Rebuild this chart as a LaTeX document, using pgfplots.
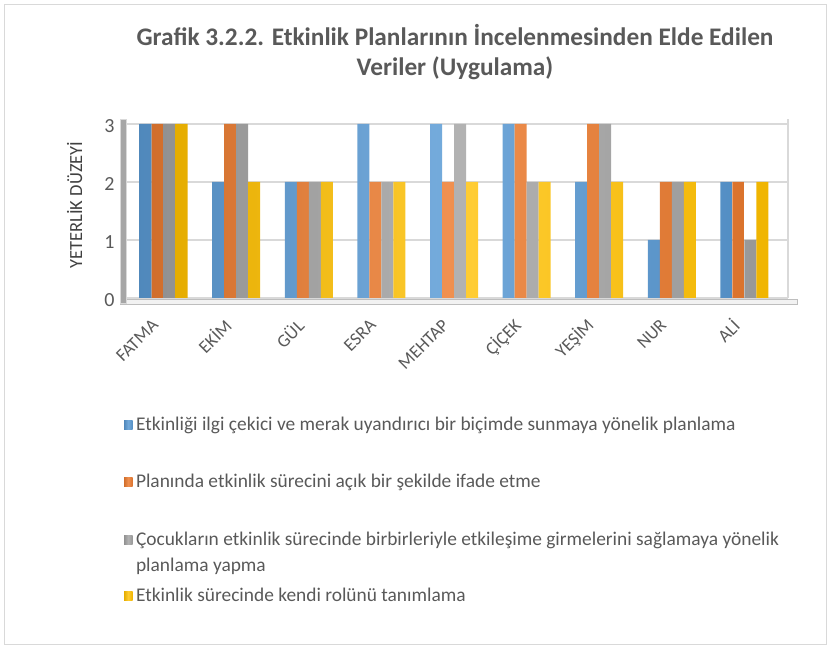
\documentclass[border=0pt]{standalone}
\usepackage{pgfplots}
\pgfplotsset{compat=1.18}
\usepackage{fontspec}
\setmainfont{Carlito}
\definecolor{cblue}{HTML}{5B9BD5}
\definecolor{corange}{HTML}{ED7D31}
\definecolor{cgray}{HTML}{A5A5A5}
\definecolor{cyellow}{HTML}{FFC000}
\definecolor{txt}{HTML}{595959}
\definecolor{ylab}{HTML}{404040}
\definecolor{gridc}{HTML}{D9D9D9}
\definecolor{floorc}{HTML}{F2F2F2}
\definecolor{wallc}{HTML}{A6A6A6}
\pgfplotsset{
  b1/.style={draw=none, left color=cblue!88!black, right color=cblue!92!black, middle color=cblue!85!white},
  b2/.style={draw=none, left color=corange!88!black, right color=corange!92!black, middle color=corange!85!white},
  b3/.style={draw=none, left color=cgray!88!black, right color=cgray!92!black, middle color=cgray!85!white},
  b4/.style={draw=none, left color=cyellow!90!black, right color=cyellow!94!black, middle color=cyellow!80!white},
  legax/.style={hide axis, scale only axis, width=1bp, height=1bp,
    xmin=0, xmax=1, ymin=0, ymax=1, anchor=south west,
    legend cell align=left,
    legend style={at={(0,0)}, anchor=west, draw=none, fill=none,
      inner sep=0pt, outer sep=0pt, column sep=3.5bp,
      nodes={inner sep=0pt, font=\fontsize{19.4bp}{26bp}\selectfont, text=txt}},
    legend image code/.code={\path[##1, sharp corners] (0bp,-4.25bp) rectangle (8.5bp,4.25bp);}},
}
\begin{document}
\begin{tikzpicture}[x=1bp,y=1bp]
\useasboundingbox (0,0) rectangle (831,646);
\draw[color=gridc, line width=1bp] (4.5,1.5) rectangle (826.5,641.5);
\node[align=center, font=\fontsize{25.3bp}{30bp}\selectfont\bfseries, text=txt] at (455,594)
  {Grafik 3.2.2. Etkinlik Planlarının İncelenmesinden Elde Edilen\\Veriler (Uygulama)};
\begin{axis}[
  at={(120bp,348bp)}, anchor=south west, scale only axis,
  width=668bp, height=174bp,
  xmin=-0.6, xmax=8.6, ymin=0, ymax=3,
  ybar=0pt, bar width=12bp,
  xtick={0,...,8},
  xticklabels={FATMA,EKİM,GÜL,ESRA,MEHTAP,ÇİÇEK,YEŞİM,NUR,ALİ},
  ytick={0,1,2,3},
  major tick length=0pt,
  axis line style={draw=none},
  ymajorgrids, major grid style={color=gridc, line width=1.2bp},
  /pgf/number format/assume math mode=true,
  yticklabel style={font=\fontsize{20bp}{22bp}\selectfont, text=txt, yshift=-2bp, xshift=-2bp},
  xticklabel style={font=\fontsize{18bp}{20bp}\selectfont, text=txt, xshift=-6bp, yshift=-22bp, rotate=45, anchor=east},
  ylabel={YETERLİK DÜZEYİ},
  ylabel style={at={(axis description cs:-0.068,0.534)}, anchor=center, font=\fontsize{18.5bp}{20bp}\selectfont, text=ylab},
  clip=false,
]
\draw[gridc!70!gray, fill=floorc] ([yshift=-6bp]rel axis cs:0,0) rectangle ([xshift=9bp,yshift=-1bp]rel axis cs:1,0);
\addplot[b1] coordinates {(0,3) (1,2) (2,2) (3,3) (4,3) (5,3) (6,2) (7,1) (8,2)};
\addplot[b2] coordinates {(0,3) (1,3) (2,2) (3,2) (4,2) (5,3) (6,3) (7,2) (8,2)};
\addplot[b3] coordinates {(0,3) (1,3) (2,2) (3,2) (4,3) (5,2) (6,3) (7,2) (8,1)};
\addplot[b4] coordinates {(0,3) (1,2) (2,2) (3,2) (4,2) (5,2) (6,2) (7,2) (8,2)};
\draw[gridc, fill=wallc] ([yshift=-5bp]rel axis cs:0,0) rectangle ([xshift=6bp,yshift=5bp]rel axis cs:0,1);
\draw[gridc, line width=1.2bp] (rel axis cs:1,0) -- ([yshift=5bp]rel axis cs:1,1);
\end{axis}
\begin{axis}[legax, at={(124bp,221bp)}]
\addlegendimage{b1}
\addlegendentry{Etkinliği ilgi çekici ve merak uyandırıcı bir biçimde sunmaya yönelik planlama}
\end{axis}
\begin{axis}[legax, at={(124bp,164bp)}]
\addlegendimage{b2}
\addlegendentry{Planında etkinlik sürecini açık bir şekilde ifade etme}
\end{axis}
\begin{axis}[legax, at={(124bp,106bp)}]
\addlegendimage{b3}
\addlegendentry{\rlap{\smash{\raisebox{-26bp}{planlama yapma}}}Çocukların etkinlik sürecinde birbirleriyle etkileşime girmelerini sağlamaya yönelik}
\end{axis}
\begin{axis}[legax, at={(124bp,50bp)}]
\addlegendimage{b4}
\addlegendentry{Etkinlik sürecinde kendi rolünü tanımlama}
\end{axis}
\end{tikzpicture}
\end{document}
